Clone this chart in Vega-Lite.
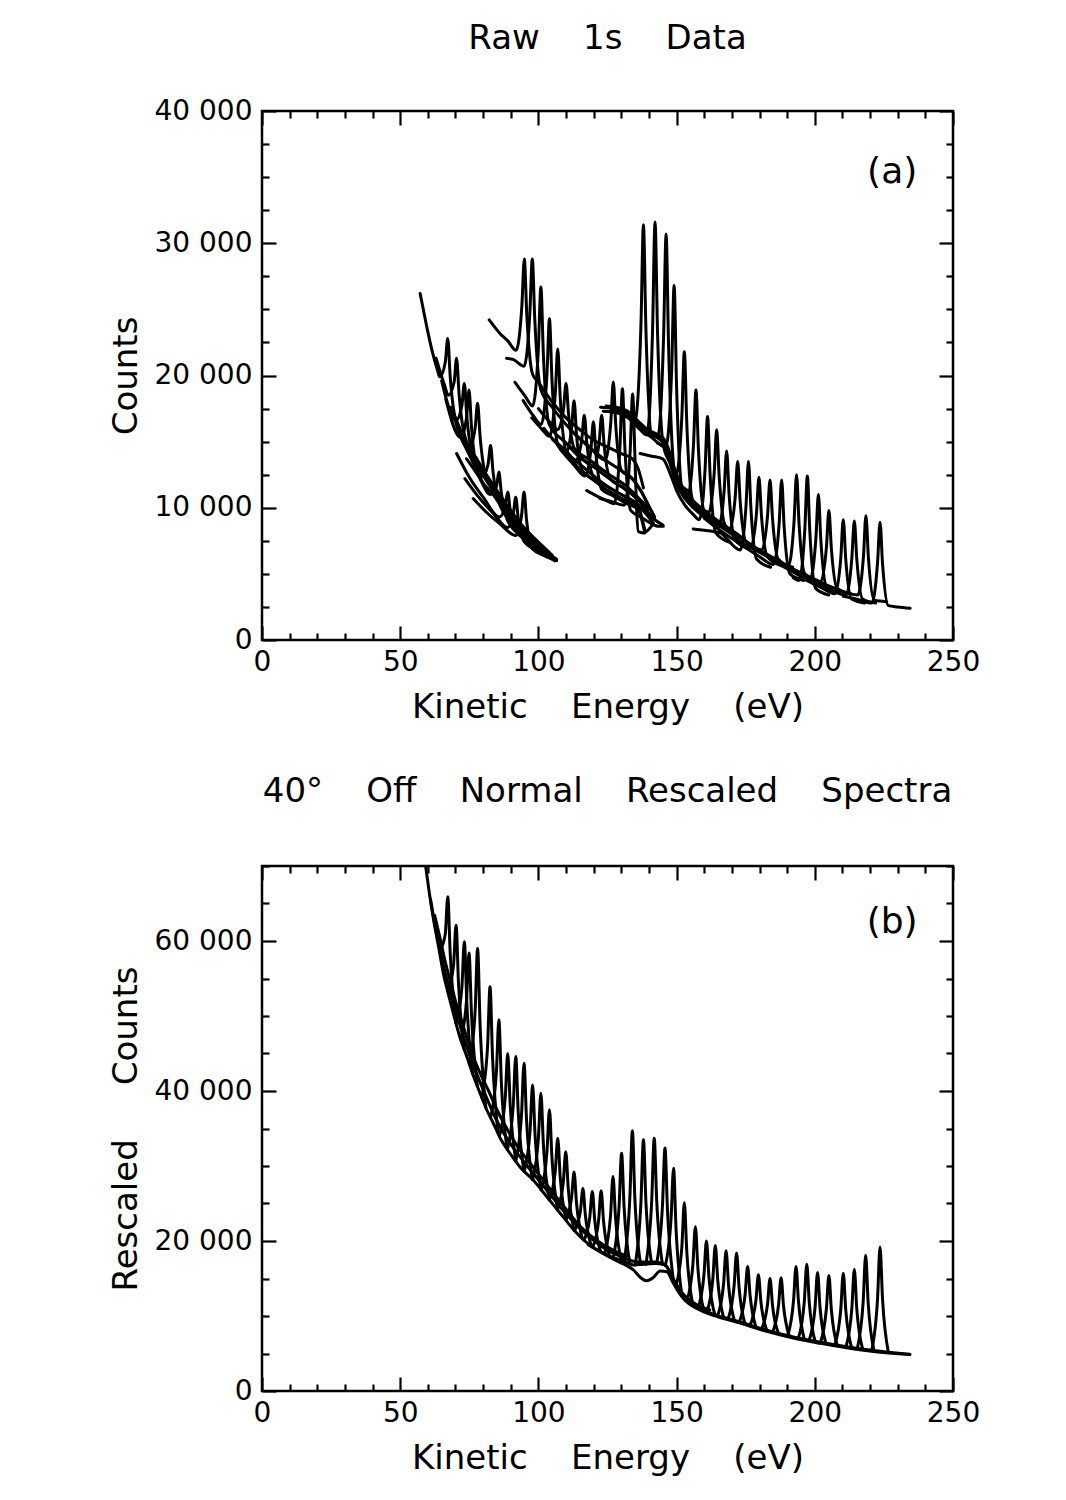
{
"$schema": "https://vega.github.io/schema/vega-lite/v6.json",
"background": "white",
"padding": {"left": 107, "top": 20, "right": 10, "bottom": 10},
"spacing": 47,
"config": {
  "font": "DejaVu Sans",
  "view": {"stroke": "black", "strokeWidth": 2.5},
  "axis": {"domain": false, "grid": false, "labelFontSize": 28, "labelColor": "#000", "titleFontSize": 34, "titleFontWeight": "normal", "titleColor": "#000", "tickColor": "#000", "tickWidth": 2.2, "labelFlush": false, "labelOverlap": false},
  "title": {"fontSize": 34, "fontWeight": "normal", "color": "#000", "anchor": "middle"}
},
"datasets": {
"A": [
{"s":"a1","x":57.2,"y":26200},{"s":"a1","x":59.5,"y":23800},{"s":"a1","x":61.5,"y":21900},{"s":"a1","x":63.5,"y":20400},{"s":"a1","x":64.3,"y":19900},{"s":"a1","x":66.3,"y":21000},{"s":"a1","x":67.2,"y":22800},{"s":"a1","x":68.1,"y":19900},{"s":"a1","x":70.2,"y":16400},{"s":"a1","x":75,"y":14200},{"s":"a1","x":82,"y":11800},{"s":"a1","x":90,"y":9300},{"s":"a1","x":98,"y":7300},{"s":"a1","x":106.6,"y":6100},
{"s":"a2","x":63,"y":21300},{"s":"a2","x":66,"y":19300},{"s":"a2","x":67.4,"y":18500},{"s":"a2","x":69.5,"y":19500},{"s":"a2","x":70.4,"y":21300},{"s":"a2","x":71.3,"y":18600},{"s":"a2","x":73.4,"y":15400},{"s":"a2","x":78,"y":13600},{"s":"a2","x":86,"y":11000},{"s":"a2","x":94,"y":8700},{"s":"a2","x":102,"y":7000},{"s":"a2","x":105,"y":6400},
{"s":"a3","x":65,"y":19600},{"s":"a3","x":70.2,"y":16600},{"s":"a3","x":72.3,"y":17700},{"s":"a3","x":73.2,"y":19400},{"s":"a3","x":74.1,"y":16900},{"s":"a3","x":76.2,"y":14000},{"s":"a3","x":80,"y":12700},{"s":"a3","x":88,"y":10200},{"s":"a3","x":96,"y":8000},{"s":"a3","x":103,"y":6600},
{"s":"a4","x":66.5,"y":18200},{"s":"a4","x":71.9,"y":15300},{"s":"a4","x":74.0,"y":16800},{"s":"a4","x":74.9,"y":18900},{"s":"a4","x":75.8,"y":16100},{"s":"a4","x":77.9,"y":12800},{"s":"a4","x":84,"y":10900},{"s":"a4","x":92,"y":8500},{"s":"a4","x":100,"y":6900},{"s":"a4","x":106,"y":6000},
{"s":"a5","x":68.5,"y":17600},{"s":"a5","x":72,"y":15800},{"s":"a5","x":75,"y":14500},{"s":"a5","x":77.1,"y":16000},{"s":"a5","x":78.0,"y":17900},{"s":"a5","x":78.9,"y":15400},{"s":"a5","x":81.0,"y":12400},{"s":"a5","x":87,"y":10500},{"s":"a5","x":95,"y":8300},{"s":"a5","x":104,"y":6500},
{"s":"a6","x":71,"y":15800},{"s":"a6","x":75,"y":14000},{"s":"a6","x":79.7,"y":12350},{"s":"a6","x":81.8,"y":13300},{"s":"a6","x":82.7,"y":14700},{"s":"a6","x":83.6,"y":12700},{"s":"a6","x":85.7,"y":10400},{"s":"a6","x":92,"y":8600},{"s":"a6","x":100,"y":7000},{"s":"a6","x":106,"y":6200},
{"s":"a7","x":74,"y":13700},{"s":"a7","x":78,"y":12500},{"s":"a7","x":82.7,"y":11000},{"s":"a7","x":84.8,"y":11600},{"s":"a7","x":85.7,"y":12700},{"s":"a7","x":86.6,"y":11100},{"s":"a7","x":88.7,"y":9100},{"s":"a7","x":94,"y":7800},{"s":"a7","x":101,"y":6600},{"s":"a7","x":106,"y":6000},
{"s":"a8","x":70.4,"y":14100},{"s":"a8","x":75,"y":12300},{"s":"a8","x":80,"y":10800},{"s":"a8","x":85.9,"y":9300},{"s":"a8","x":88.0,"y":10150},{"s":"a8","x":88.9,"y":11200},{"s":"a8","x":89.8,"y":9800},{"s":"a8","x":91.9,"y":8200},{"s":"a8","x":96,"y":7500},{"s":"a8","x":100,"y":6900},{"s":"a8","x":104,"y":6300},
{"s":"a9","x":73.4,"y":12200},{"s":"a9","x":78,"y":10900},{"s":"a9","x":84,"y":9500},{"s":"a9","x":88.8,"y":8500},{"s":"a9","x":90.9,"y":9500},{"s":"a9","x":91.8,"y":10800},{"s":"a9","x":92.7,"y":9200},{"s":"a9","x":94.8,"y":7450},{"s":"a9","x":99,"y":6800},{"s":"a9","x":103,"y":6300},
{"s":"a10","x":76.4,"y":10700},{"s":"a10","x":81,"y":9700},{"s":"a10","x":86,"y":8800},{"s":"a10","x":91.8,"y":7900},{"s":"a10","x":93.9,"y":9400},{"s":"a10","x":94.8,"y":11200},{"s":"a10","x":95.7,"y":9100},{"s":"a10","x":97.8,"y":6900},{"s":"a10","x":102,"y":6400},{"s":"a10","x":106.6,"y":6000},
{"s":"m1","x":82.2,"y":24200},{"s":"m1","x":86,"y":23200},{"s":"m1","x":89,"y":22600},{"s":"m1","x":91.9,"y":21900},{"s":"m1","x":94,"y":25200},{"s":"m1","x":94.9,"y":28800},{"s":"m1","x":95.8,"y":24600},{"s":"m1","x":97.9,"y":20100},{"s":"m1","x":100,"y":19500},{"s":"m1","x":105,"y":18000},{"s":"m1","x":110,"y":16800},{"s":"m1","x":115,"y":15900},{"s":"m1","x":120,"y":15100},{"s":"m1","x":125,"y":14600},{"s":"m1","x":130,"y":14100},{"s":"m1","x":134,"y":13700},{"s":"m1","x":136,"y":13000},{"s":"m1","x":138,"y":11500},
{"s":"m2","x":88.5,"y":21300},{"s":"m2","x":91,"y":21200},{"s":"m2","x":94.8,"y":20700},{"s":"m2","x":96.9,"y":24700},{"s":"m2","x":97.8,"y":28800},{"s":"m2","x":98.7,"y":24200},{"s":"m2","x":100.8,"y":19000},{"s":"m2","x":105,"y":17600},{"s":"m2","x":110,"y":16300},{"s":"m2","x":115,"y":15200},{"s":"m2","x":120,"y":14300},{"s":"m2","x":125,"y":13500},{"s":"m2","x":130,"y":12800},{"s":"m2","x":134,"y":12200},{"s":"m2","x":137,"y":11300},{"s":"m2","x":140,"y":10100},{"s":"m2","x":142,"y":9300},
{"s":"m3","x":91.5,"y":19500},{"s":"m3","x":95,"y":18500},{"s":"m3","x":97.9,"y":17700},{"s":"m3","x":100,"y":22100},{"s":"m3","x":100.9,"y":26700},{"s":"m3","x":101.8,"y":21600},{"s":"m3","x":103.9,"y":16300},{"s":"m3","x":110,"y":14900},{"s":"m3","x":115,"y":13800},{"s":"m3","x":120,"y":13100},{"s":"m3","x":125,"y":12300},{"s":"m3","x":130,"y":11600},{"s":"m3","x":134,"y":11000},{"s":"m3","x":137,"y":10400},{"s":"m3","x":141,"y":9300},{"s":"m3","x":145,"y":8700},
{"s":"m4","x":94.5,"y":18100},{"s":"m4","x":98,"y":17000},{"s":"m4","x":101,"y":16300},{"s":"m4","x":103.1,"y":20100},{"s":"m4","x":104,"y":24300},{"s":"m4","x":104.9,"y":19700},{"s":"m4","x":107,"y":14800},{"s":"m4","x":110,"y":14100},{"s":"m4","x":115,"y":12900},{"s":"m4","x":120,"y":12100},{"s":"m4","x":125,"y":11300},{"s":"m4","x":130,"y":10700},{"s":"m4","x":134,"y":10300},{"s":"m4","x":136,"y":10100},{"s":"m4","x":138.5,"y":8300},
{"s":"m5","x":97.6,"y":16800},{"s":"m5","x":101,"y":16000},{"s":"m5","x":104,"y":15400},{"s":"m5","x":106.1,"y":18600},{"s":"m5","x":107,"y":22000},{"s":"m5","x":107.9,"y":18300},{"s":"m5","x":110,"y":14300},{"s":"m5","x":115,"y":13300},{"s":"m5","x":120,"y":12400},{"s":"m5","x":125,"y":11600},{"s":"m5","x":130,"y":11000},{"s":"m5","x":135,"y":10400},{"s":"m5","x":138,"y":9900},{"s":"m5","x":141.6,"y":8800},
{"s":"m6","x":100,"y":17500},{"s":"m6","x":104,"y":16500},{"s":"m6","x":107,"y":15900},{"s":"m6","x":109.1,"y":17500},{"s":"m6","x":110,"y":19400},{"s":"m6","x":110.9,"y":17100},{"s":"m6","x":113,"y":14500},{"s":"m6","x":118,"y":13700},{"s":"m6","x":125,"y":12600},{"s":"m6","x":132,"y":11600},{"s":"m6","x":140,"y":9900},
{"s":"m7","x":102,"y":16000},{"s":"m7","x":106,"y":15000},{"s":"m7","x":109.9,"y":14100},{"s":"m7","x":112,"y":16000},{"s":"m7","x":112.9,"y":18100},{"s":"m7","x":113.8,"y":15500},{"s":"m7","x":115.9,"y":12800},{"s":"m7","x":120,"y":12100},{"s":"m7","x":125,"y":11300},{"s":"m7","x":130,"y":10700},{"s":"m7","x":136,"y":10100},
{"s":"m8","x":105,"y":15200},{"s":"m8","x":110,"y":14300},{"s":"m8","x":113.6,"y":13600},{"s":"m8","x":115.7,"y":15200},{"s":"m8","x":116.6,"y":17000},{"s":"m8","x":117.5,"y":14900},{"s":"m8","x":119.6,"y":12500},{"s":"m8","x":125,"y":11600},{"s":"m8","x":130,"y":11000},{"s":"m8","x":135,"y":10400},{"s":"m8","x":141,"y":9000},
{"s":"m9","x":108,"y":14400},{"s":"m9","x":113,"y":13200},{"s":"m9","x":116.9,"y":12400},{"s":"m9","x":119,"y":14400},{"s":"m9","x":119.9,"y":16500},{"s":"m9","x":120.8,"y":14100},{"s":"m9","x":122.9,"y":11400},{"s":"m9","x":127,"y":10900},{"s":"m9","x":132,"y":10300},{"s":"m9","x":136,"y":9900},{"s":"m9","x":138.5,"y":8100},
{"s":"m10","x":111,"y":14700},{"s":"m10","x":116,"y":13700},{"s":"m10","x":119.9,"y":13100},{"s":"m10","x":122,"y":15000},{"s":"m10","x":122.9,"y":17000},{"s":"m10","x":123.8,"y":14700},{"s":"m10","x":125.9,"y":12200},{"s":"m10","x":130,"y":11600},{"s":"m10","x":134,"y":11000},{"s":"m10","x":137,"y":10400},{"s":"m10","x":141,"y":9300},{"s":"m10","x":145,"y":8700},
{"s":"m11","x":113,"y":15600},{"s":"m11","x":118,"y":14700},{"s":"m11","x":124.1,"y":13600},{"s":"m11","x":126.2,"y":16500},{"s":"m11","x":127.1,"y":19500},{"s":"m11","x":128,"y":16200},{"s":"m11","x":130.1,"y":12800},{"s":"m11","x":134,"y":12200},{"s":"m11","x":137,"y":11300},{"s":"m11","x":140,"y":10100},{"s":"m11","x":142,"y":9300},
{"s":"m12","x":117.5,"y":11300},{"s":"m12","x":121,"y":10900},{"s":"m12","x":125,"y":10500},{"s":"m12","x":127.4,"y":10300},{"s":"m12","x":129.5,"y":14600},{"s":"m12","x":130.4,"y":19000},{"s":"m12","x":131.3,"y":14500},{"s":"m12","x":133.4,"y":9800},{"s":"m12","x":137,"y":9300},{"s":"m12","x":140,"y":8900},{"s":"m12","x":143.5,"y":8600},{"s":"m12","x":145.2,"y":8600},
{"s":"m13","x":122.3,"y":10700},{"s":"m13","x":126,"y":10500},{"s":"m13","x":131.1,"y":10200},{"s":"m13","x":133.2,"y":14300},{"s":"m13","x":134.1,"y":18600},{"s":"m13","x":134.9,"y":14000},{"s":"m13","x":135.5,"y":10000},{"s":"m13","x":136.2,"y":8200},{"s":"m13","x":138,"y":8100},{"s":"m13","x":141.6,"y":8800},
{"s":"h1","x":122.5,"y":17600},{"s":"h1","x":127,"y":17500},{"s":"h1","x":131,"y":17300},{"s":"h1","x":135,"y":16700},{"s":"h1","x":137.1,"y":23800},{"s":"h1","x":138,"y":31400},{"s":"h1","x":138.9,"y":23500},{"s":"h1","x":141,"y":15500},{"s":"h1","x":143,"y":15300},{"s":"h1","x":146,"y":14800},
{"s":"h2","x":123.5,"y":17300},{"s":"h2","x":128,"y":17200},{"s":"h2","x":133,"y":16700},{"s":"h2","x":136.8,"y":15900},{"s":"h2","x":139.2,"y":15500},{"s":"h2","x":141.3,"y":23400},{"s":"h2","x":142.2,"y":31600},{"s":"h2","x":143.1,"y":23300},{"s":"h2","x":145.2,"y":14700},{"s":"h2","x":148,"y":13200},{"s":"h2","x":150,"y":11900},
{"s":"h3","x":124.5,"y":17700},{"s":"h3","x":129,"y":17500},{"s":"h3","x":133,"y":17100},{"s":"h3","x":136.8,"y":16300},{"s":"h3","x":140,"y":15800},{"s":"h3","x":143.2,"y":15400},{"s":"h3","x":145.3,"y":23000},{"s":"h3","x":146.2,"y":30700},{"s":"h3","x":147.1,"y":22200},{"s":"h3","x":149.2,"y":12800},{"s":"h3","x":151,"y":11900},{"s":"h3","x":154,"y":11300},
{"s":"h4","x":126,"y":17300},{"s":"h4","x":131,"y":17100},{"s":"h4","x":136.8,"y":16000},{"s":"h4","x":141,"y":15300},{"s":"h4","x":146.1,"y":14600},{"s":"h4","x":148.2,"y":20300},{"s":"h4","x":149.1,"y":26800},{"s":"h4","x":150,"y":19100},{"s":"h4","x":152.1,"y":11200},{"s":"h4","x":154,"y":10700},{"s":"h4","x":157,"y":10000},
{"s":"h5","x":128,"y":17600},{"s":"h5","x":133,"y":17200},{"s":"h5","x":136.8,"y":16400},{"s":"h5","x":141,"y":15700},{"s":"h5","x":145,"y":15300},{"s":"h5","x":147,"y":14500},{"s":"h5","x":149.8,"y":12500},{"s":"h5","x":151.9,"y":16900},{"s":"h5","x":152.8,"y":21800},{"s":"h5","x":153.7,"y":16300},{"s":"h5","x":155.8,"y":10600},{"s":"h5","x":161,"y":9700},
{"s":"h6","x":131,"y":17300},{"s":"h6","x":136.8,"y":16200},{"s":"h6","x":141,"y":15500},{"s":"h6","x":145,"y":15100},{"s":"h6","x":148,"y":13500},{"s":"h6","x":151,"y":11800},{"s":"h6","x":154,"y":10900},{"s":"h6","x":156.1,"y":14700},{"s":"h6","x":157,"y":18900},{"s":"h6","x":157.9,"y":14400},{"s":"h6","x":160,"y":9700},{"s":"h6","x":165,"y":8900},
{"s":"h7","x":136.8,"y":14100},{"s":"h7","x":141,"y":13900},{"s":"h7","x":145,"y":13700},{"s":"h7","x":148,"y":12400},{"s":"h7","x":150,"y":11300},{"s":"h7","x":153,"y":10200},{"s":"h7","x":156,"y":9500},{"s":"h7","x":158.2,"y":9100},{"s":"h7","x":160.3,"y":12900},{"s":"h7","x":161.2,"y":16900},{"s":"h7","x":162.1,"y":12600},{"s":"h7","x":164.2,"y":8100},{"s":"h7","x":169,"y":7400},
{"s":"h8","x":140,"y":15800},{"s":"h8","x":145,"y":15200},{"s":"h8","x":148,"y":13600},{"s":"h8","x":152,"y":11600},{"s":"h8","x":156,"y":10500},{"s":"h8","x":161.5,"y":9600},{"s":"h8","x":163.6,"y":12600},{"s":"h8","x":164.5,"y":15900},{"s":"h8","x":165.4,"y":12400},{"s":"h8","x":167.5,"y":8700},{"s":"h8","x":172,"y":8000},
{"s":"h9","x":143,"y":14900},{"s":"h9","x":146.5,"y":14300},{"s":"h9","x":148,"y":13100},{"s":"h9","x":150,"y":11800},{"s":"h9","x":153,"y":10700},{"s":"h9","x":156,"y":10000},{"s":"h9","x":160,"y":9300},{"s":"h9","x":165.1,"y":8500},{"s":"h9","x":167.2,"y":11300},{"s":"h9","x":168.1,"y":14300},{"s":"h9","x":169,"y":11000},{"s":"h9","x":171.1,"y":7600},{"s":"h9","x":176,"y":6900},
{"s":"h10","x":147,"y":14300},{"s":"h10","x":150,"y":12200},{"s":"h10","x":153,"y":11100},{"s":"h10","x":157,"y":10200},{"s":"h10","x":163,"y":9200},{"s":"h10","x":169.1,"y":8300},{"s":"h10","x":171.2,"y":10800},{"s":"h10","x":172.1,"y":13500},{"s":"h10","x":173,"y":10500},{"s":"h10","x":175.1,"y":7400},{"s":"h10","x":180,"y":6800},
{"s":"h11","x":156,"y":8400},{"s":"h11","x":160,"y":8300},{"s":"h11","x":165.7,"y":8100},{"s":"h11","x":173,"y":6800},{"s":"h11","x":175.1,"y":10100},{"s":"h11","x":176,"y":13500},{"s":"h11","x":176.9,"y":9900},{"s":"h11","x":179,"y":6100},{"s":"h11","x":184,"y":5500},
{"s":"h12","x":150,"y":12000},{"s":"h12","x":153,"y":10900},{"s":"h12","x":157,"y":10000},{"s":"h12","x":163,"y":9000},{"s":"h12","x":170,"y":8000},{"s":"h12","x":176.8,"y":7000},{"s":"h12","x":178.9,"y":9600},{"s":"h12","x":179.8,"y":12300},{"s":"h12","x":180.7,"y":9400},{"s":"h12","x":182.8,"y":6300},{"s":"h12","x":188,"y":5600},
{"s":"h13","x":155,"y":10700},{"s":"h13","x":160,"y":9800},{"s":"h13","x":165,"y":9000},{"s":"h13","x":172,"y":8000},{"s":"h13","x":180.8,"y":6800},{"s":"h13","x":182.9,"y":9400},{"s":"h13","x":183.8,"y":12100},{"s":"h13","x":184.7,"y":9200},{"s":"h13","x":186.8,"y":6100},{"s":"h13","x":192,"y":5500},
{"s":"h14","x":160,"y":9200},{"s":"h14","x":165,"y":8400},{"s":"h14","x":172,"y":7400},{"s":"h14","x":180,"y":6300},{"s":"h14","x":185,"y":5700},{"s":"h14","x":187.1,"y":8800},{"s":"h14","x":188,"y":12100},{"s":"h14","x":188.9,"y":8600},{"s":"h14","x":191,"y":5000},{"s":"h14","x":196,"y":4500},
{"s":"h15","x":165,"y":8900},{"s":"h15","x":172,"y":7900},{"s":"h15","x":180,"y":6800},{"s":"h15","x":186,"y":6100},{"s":"h15","x":190.4,"y":5600},{"s":"h15","x":192.5,"y":9000},{"s":"h15","x":193.4,"y":12500},{"s":"h15","x":194.3,"y":8800},{"s":"h15","x":196.4,"y":5000},{"s":"h15","x":201,"y":4500},
{"s":"h16","x":192.2,"y":4700},{"s":"h16","x":194.3,"y":4500},{"s":"h16","x":196.4,"y":8400},{"s":"h16","x":197.3,"y":12400},{"s":"h16","x":198.2,"y":8200},{"s":"h16","x":200.3,"y":3900},{"s":"h16","x":205,"y":3400},
{"s":"h17","x":175,"y":7200},{"s":"h17","x":182,"y":6400},{"s":"h17","x":190,"y":5400},{"s":"h17","x":198.3,"y":4600},{"s":"h17","x":200.4,"y":7700},{"s":"h17","x":201.3,"y":11000},{"s":"h17","x":202.2,"y":7500},{"s":"h17","x":204.3,"y":4000},{"s":"h17","x":209,"y":3600},
{"s":"h18","x":180,"y":6800},{"s":"h18","x":188,"y":5800},{"s":"h18","x":195,"y":5100},{"s":"h18","x":202.1,"y":4400},{"s":"h18","x":204.2,"y":7000},{"s":"h18","x":205.1,"y":9800},{"s":"h18","x":206,"y":6900},{"s":"h18","x":208.1,"y":3900},{"s":"h18","x":213,"y":3500},
{"s":"h19","x":197,"y":4500},{"s":"h19","x":202,"y":4000},{"s":"h19","x":207.3,"y":3500},{"s":"h19","x":209.4,"y":6200},{"s":"h19","x":210.3,"y":9100},{"s":"h19","x":211.2,"y":6100},{"s":"h19","x":213.3,"y":3100},{"s":"h19","x":218,"y":2800},
{"s":"h20","x":190,"y":5400},{"s":"h20","x":200,"y":4400},{"s":"h20","x":211.3,"y":3400},{"s":"h20","x":213.4,"y":6200},{"s":"h20","x":214.3,"y":9000},{"s":"h20","x":215.2,"y":6100},{"s":"h20","x":217.3,"y":3100},{"s":"h20","x":222,"y":2800},
{"s":"h21","x":195,"y":5100},{"s":"h21","x":205,"y":4100},{"s":"h21","x":215.5,"y":3400},{"s":"h21","x":217.6,"y":6300},{"s":"h21","x":218.5,"y":9400},{"s":"h21","x":219.4,"y":6200},{"s":"h21","x":221.5,"y":3000},{"s":"h21","x":226,"y":2900},
{"s":"h22","x":210.3,"y":3300},{"s":"h22","x":215,"y":3100},{"s":"h22","x":220.6,"y":2800},{"s":"h22","x":222.7,"y":5850},{"s":"h22","x":223.6,"y":8900},{"s":"h22","x":224.5,"y":5800},{"s":"h22","x":226.6,"y":2600},{"s":"h22","x":230,"y":2500},{"s":"h22","x":234.5,"y":2400}
],
"B": [
{"s":"bgA","x":59.2,"y":70000},{"s":"bgA","x":60.5,"y":66500},{"s":"bgA","x":62,"y":63000},{"s":"bgA","x":64,"y":59000},{"s":"bgA","x":65.6,"y":55700},{"s":"bgA","x":67.5,"y":52800},{"s":"bgA","x":69.2,"y":50400},{"s":"bgA","x":71.5,"y":47300},{"s":"bgA","x":74.1,"y":44600},{"s":"bgA","x":76.5,"y":42000},{"s":"bgA","x":78.9,"y":39700},{"s":"bgA","x":81.3,"y":37500},{"s":"bgA","x":83.7,"y":35700},{"s":"bgA","x":86.5,"y":33500},{"s":"bgA","x":89.7,"y":31700},{"s":"bgA","x":93.5,"y":29800},{"s":"bgA","x":98.2,"y":28100},{"s":"bgA","x":103.5,"y":25700},{"s":"bgA","x":109,"y":23200},{"s":"bgA","x":113,"y":21400},{"s":"bgA","x":116.5,"y":20100},{"s":"bgA","x":120,"y":19100},{"s":"bgA","x":123.5,"y":18400},{"s":"bgA","x":127,"y":17800},{"s":"bgA","x":131,"y":17300},{"s":"bgA","x":134.5,"y":16800},{"s":"bgA","x":138,"y":16900},{"s":"bgA","x":142,"y":17000},{"s":"bgA","x":145.5,"y":16900},{"s":"bgA","x":148,"y":15500},{"s":"bgA","x":150.5,"y":13500},{"s":"bgA","x":153,"y":12300},{"s":"bgA","x":157.3,"y":11200},{"s":"bgA","x":164.5,"y":10100},{"s":"bgA","x":173,"y":9200},{"s":"bgA","x":182.6,"y":8100},{"s":"bgA","x":192.2,"y":7200},{"s":"bgA","x":202,"y":6500},{"s":"bgA","x":211.5,"y":5900},{"s":"bgA","x":221.2,"y":5400},{"s":"bgA","x":234.4,"y":4900},
{"s":"bgB","x":62.5,"y":63400},{"s":"bgB","x":64.4,"y":60400},{"s":"bgB","x":66,"y":57700},{"s":"bgB","x":68,"y":54800},{"s":"bgB","x":70,"y":52000},{"s":"bgB","x":73,"y":48400},{"s":"bgB","x":76,"y":45000},{"s":"bgB","x":79,"y":42300},{"s":"bgB","x":82,"y":40000},{"s":"bgB","x":85,"y":37500},{"s":"bgB","x":89,"y":34700},{"s":"bgB","x":93,"y":32300},{"s":"bgB","x":98,"y":29900},{"s":"bgB","x":103,"y":27500},{"s":"bgB","x":109,"y":24700},{"s":"bgB","x":115,"y":22000},{"s":"bgB","x":121,"y":20100},{"s":"bgB","x":127,"y":18800},{"s":"bgB","x":132,"y":18000},
{"s":"bgD","x":61,"y":65500},{"s":"bgD","x":63,"y":61300},{"s":"bgD","x":66,"y":56200},{"s":"bgD","x":70,"y":50800},{"s":"bgD","x":75,"y":44900},{"s":"bgD","x":80,"y":40200},{"s":"bgD","x":85,"y":36000},{"s":"bgD","x":90,"y":32900},{"s":"bgD","x":96,"y":30000},{"s":"bgD","x":103,"y":26800},{"s":"bgD","x":110,"y":23600},{"s":"bgD","x":117,"y":21000},{"s":"bgD","x":124,"y":19000},{"s":"bgD","x":130,"y":17900},{"s":"bgD","x":136,"y":17200},{"s":"bgD","x":142,"y":17200},{"s":"bgD","x":146,"y":16800},{"s":"bgD","x":149,"y":14800},{"s":"bgD","x":152,"y":13100},{"s":"bgD","x":156,"y":11800},{"s":"bgD","x":162,"y":10800},
{"s":"bgC","x":118,"y":19500},{"s":"bgC","x":123.5,"y":18300},{"s":"bgC","x":127,"y":17600},{"s":"bgC","x":131,"y":16900},{"s":"bgC","x":134.5,"y":16100},{"s":"bgC","x":137,"y":15100},{"s":"bgC","x":139,"y":14700},{"s":"bgC","x":141.5,"y":15100},{"s":"bgC","x":144,"y":16000},{"s":"bgC","x":146.5,"y":15900},{"s":"bgC","x":148.5,"y":14600},{"s":"bgC","x":150.5,"y":13300},{"s":"bgC","x":153,"y":12100},{"s":"bgC","x":157.3,"y":11000},{"s":"bgC","x":164.5,"y":9950},{"s":"bgC","x":173,"y":9050},{"s":"bgC","x":182.6,"y":7950},{"s":"bgC","x":192.2,"y":7050},{"s":"bgC","x":202,"y":6350},{"s":"bgC","x":211.5,"y":5750},{"s":"bgC","x":221.2,"y":5250},{"s":"bgC","x":234.4,"y":4850},
{"s":"p1","x":64.2,"y":58600},{"s":"p1","x":66.3,"y":60900},{"s":"p1","x":67.2,"y":65900},{"s":"p1","x":68.1,"y":58300},{"s":"p1","x":70.2,"y":49100},
{"s":"p2","x":67.2,"y":53300},{"s":"p2","x":69.3,"y":56800},{"s":"p2","x":70.2,"y":62100},{"s":"p2","x":71.1,"y":54300},{"s":"p2","x":73.2,"y":45500},
{"s":"p3","x":70.2,"y":49100},{"s":"p3","x":72.3,"y":53700},{"s":"p3","x":73.2,"y":59900},{"s":"p3","x":74.1,"y":51800},{"s":"p3","x":76.2,"y":42300},
{"s":"p4","x":71.9,"y":46900},{"s":"p4","x":74.0,"y":52100},{"s":"p4","x":74.9,"y":58400},{"s":"p4","x":75.8,"y":50200},{"s":"p4","x":77.9,"y":40700},
{"s":"p5","x":75.0,"y":43600},{"s":"p5","x":77.1,"y":50600},{"s":"p5","x":78.0,"y":59000},{"s":"p5","x":78.9,"y":48900},{"s":"p5","x":81.0,"y":37800},
{"s":"p6","x":79.5,"y":39200},{"s":"p6","x":81.6,"y":45900},{"s":"p6","x":82.5,"y":53900},{"s":"p6","x":83.4,"y":44600},{"s":"p6","x":85.5,"y":34300},
{"s":"p7","x":82.7,"y":36500},{"s":"p7","x":84.8,"y":42500},{"s":"p7","x":85.7,"y":49500},{"s":"p7","x":86.6,"y":41100},{"s":"p7","x":88.7,"y":32300},
{"s":"p8","x":85.9,"y":34000},{"s":"p8","x":88.0,"y":39100},{"s":"p8","x":88.9,"y":45000},{"s":"p8","x":89.8,"y":38100},{"s":"p8","x":91.9,"y":30600},
{"s":"p9","x":88.8,"y":32200},{"s":"p9","x":90.9,"y":38100},{"s":"p9","x":91.8,"y":44600},{"s":"p9","x":92.7,"y":37200},{"s":"p9","x":94.8,"y":29300},
{"s":"p10","x":91.8,"y":30700},{"s":"p10","x":93.9,"y":36900},{"s":"p10","x":94.8,"y":43700},{"s":"p10","x":95.7,"y":36200},{"s":"p10","x":97.8,"y":28200},
{"s":"p11","x":94.9,"y":29300},{"s":"p11","x":97.0,"y":34800},{"s":"p11","x":97.9,"y":40800},{"s":"p11","x":98.8,"y":34100},{"s":"p11","x":100.9,"y":26900},
{"s":"p12","x":97.9,"y":28200},{"s":"p12","x":100.0,"y":33700},{"s":"p12","x":100.9,"y":39700},{"s":"p12","x":101.8,"y":32900},{"s":"p12","x":103.9,"y":25500},
{"s":"p13","x":101.0,"y":26800},{"s":"p13","x":103.1,"y":31900},{"s":"p13","x":104.0,"y":37500},{"s":"p13","x":104.9,"y":31100},{"s":"p13","x":107.0,"y":24100},
{"s":"p14","x":104.0,"y":25500},{"s":"p14","x":106.1,"y":29300},{"s":"p14","x":107.0,"y":33700},{"s":"p14","x":107.9,"y":28500},{"s":"p14","x":110.0,"y":22800},
{"s":"p15","x":106.9,"y":24200},{"s":"p15","x":109.0,"y":27800},{"s":"p15","x":109.9,"y":31900},{"s":"p15","x":110.8,"y":27000},{"s":"p15","x":112.9,"y":21400},
{"s":"p16","x":109.9,"y":22800},{"s":"p16","x":112.0,"y":25800},{"s":"p16","x":112.9,"y":29200},{"s":"p16","x":113.8,"y":25000},{"s":"p16","x":115.9,"y":20300},
{"s":"p17","x":113.1,"y":21400},{"s":"p17","x":115.2,"y":24000},{"s":"p17","x":116.1,"y":27000},{"s":"p17","x":117.0,"y":23400},{"s":"p17","x":119.1,"y":19400},
{"s":"p18","x":116.5,"y":20100},{"s":"p18","x":118.6,"y":23200},{"s":"p18","x":119.5,"y":26600},{"s":"p18","x":120.4,"y":22700},{"s":"p18","x":122.5,"y":18600},
{"s":"p19","x":119.7,"y":19200},{"s":"p19","x":121.8,"y":22800},{"s":"p19","x":122.7,"y":26700},{"s":"p19","x":123.6,"y":22500},{"s":"p19","x":125.7,"y":18000},
{"s":"p20","x":124.0,"y":18300},{"s":"p20","x":126.1,"y":23400},{"s":"p20","x":127.0,"y":28600},{"s":"p20","x":127.9,"y":23100},{"s":"p20","x":130.0,"y":17400},
{"s":"p21","x":127.1,"y":17800},{"s":"p21","x":129.2,"y":24700},{"s":"p21","x":130.1,"y":31700},{"s":"p21","x":131.0,"y":24500},{"s":"p21","x":133.1,"y":17000},
{"s":"p22","x":131.0,"y":17300},{"s":"p22","x":133.1,"y":25900},{"s":"p22","x":134.0,"y":34700},{"s":"p22","x":134.9,"y":25700},{"s":"p22","x":137.0,"y":16900},
{"s":"p23","x":135.0,"y":16800},{"s":"p23","x":137.1,"y":25200},{"s":"p23","x":138.0,"y":33500},{"s":"p23","x":138.9,"y":25200},{"s":"p23","x":141.0,"y":17000},
{"s":"p24","x":138.9,"y":16900},{"s":"p24","x":141.0,"y":25400},{"s":"p24","x":141.9,"y":33700},{"s":"p24","x":142.8,"y":25400},{"s":"p24","x":144.9,"y":16900},
{"s":"p25","x":142.8,"y":17000},{"s":"p25","x":144.9,"y":24800},{"s":"p25","x":145.8,"y":32400},{"s":"p25","x":146.7,"y":24100},{"s":"p25","x":148.8,"y":14900},
{"s":"p26","x":145.9,"y":16700},{"s":"p26","x":148.0,"y":23000},{"s":"p26","x":148.9,"y":29700},{"s":"p26","x":149.8,"y":21600},{"s":"p26","x":151.9,"y":12800},
{"s":"p27","x":149.8,"y":14100},{"s":"p27","x":151.9,"y":19200},{"s":"p27","x":152.8,"y":25100},{"s":"p27","x":153.7,"y":18500},{"s":"p27","x":155.8,"y":11600},
{"s":"p28","x":153.8,"y":12100},{"s":"p28","x":155.9,"y":16900},{"s":"p28","x":156.8,"y":21900},{"s":"p28","x":157.7,"y":16400},{"s":"p28","x":159.8,"y":10800},
{"s":"p29","x":157.8,"y":11100},{"s":"p29","x":159.9,"y":15500},{"s":"p29","x":160.8,"y":20000},{"s":"p29","x":161.7,"y":15200},{"s":"p29","x":163.8,"y":10200},
{"s":"p30","x":161.0,"y":10600},{"s":"p30","x":163.1,"y":14900},{"s":"p30","x":164.0,"y":19400},{"s":"p30","x":164.9,"y":14700},{"s":"p30","x":167.0,"y":9800},
{"s":"p31","x":164.9,"y":10100},{"s":"p31","x":167.0,"y":14300},{"s":"p31","x":167.9,"y":18700},{"s":"p31","x":168.8,"y":14100},{"s":"p31","x":170.9,"y":9400},
{"s":"p32","x":168.7,"y":9700},{"s":"p32","x":170.8,"y":14000},{"s":"p32","x":171.7,"y":18400},{"s":"p32","x":172.6,"y":13800},{"s":"p32","x":174.7,"y":9000},
{"s":"p33","x":172.7,"y":9200},{"s":"p33","x":174.8,"y":12900},{"s":"p33","x":175.7,"y":16600},{"s":"p33","x":176.6,"y":12700},{"s":"p33","x":178.7,"y":8500},
{"s":"p34","x":176.6,"y":8800},{"s":"p34","x":178.7,"y":12100},{"s":"p34","x":179.6,"y":15500},{"s":"p34","x":180.5,"y":11900},{"s":"p34","x":182.6,"y":8100},
{"s":"p35","x":180.8,"y":8300},{"s":"p35","x":182.9,"y":11600},{"s":"p35","x":183.8,"y":15000},{"s":"p35","x":184.7,"y":11400},{"s":"p35","x":186.8,"y":7700},
{"s":"p36","x":184.8,"y":7900},{"s":"p36","x":186.9,"y":11500},{"s":"p36","x":187.8,"y":15100},{"s":"p36","x":188.7,"y":11300},{"s":"p36","x":190.8,"y":7300},
{"s":"p37","x":190.2,"y":7400},{"s":"p37","x":192.3,"y":12000},{"s":"p37","x":193.2,"y":16600},{"s":"p37","x":194.1,"y":11900},{"s":"p37","x":196.2,"y":6900},
{"s":"p38","x":194.1,"y":7100},{"s":"p38","x":196.2,"y":11900},{"s":"p38","x":197.1,"y":16900},{"s":"p38","x":198.0,"y":11800},{"s":"p38","x":200.1,"y":6600},
{"s":"p39","x":198.0,"y":6800},{"s":"p39","x":200.1,"y":11200},{"s":"p39","x":201.0,"y":15800},{"s":"p39","x":201.9,"y":11100},{"s":"p39","x":204.0,"y":6400},
{"s":"p40","x":202.1,"y":6500},{"s":"p40","x":204.2,"y":11000},{"s":"p40","x":205.1,"y":15400},{"s":"p40","x":206.0,"y":10800},{"s":"p40","x":208.1,"y":6100},
{"s":"p41","x":207.3,"y":6200},{"s":"p41","x":209.4,"y":10900},{"s":"p41","x":210.3,"y":15700},{"s":"p41","x":211.2,"y":10800},{"s":"p41","x":213.3,"y":5800},
{"s":"p42","x":211.3,"y":5900},{"s":"p42","x":213.4,"y":11000},{"s":"p42","x":214.3,"y":16200},{"s":"p42","x":215.2,"y":10900},{"s":"p42","x":217.3,"y":5600},
{"s":"p43","x":215.4,"y":5700},{"s":"p43","x":217.5,"y":11900},{"s":"p43","x":218.4,"y":18100},{"s":"p43","x":219.3,"y":11800},{"s":"p43","x":221.4,"y":5400},
{"s":"p44","x":220.6,"y":5400},{"s":"p44","x":222.7,"y":12300},{"s":"p44","x":223.6,"y":19200},{"s":"p44","x":224.5,"y":12300},{"s":"p44","x":226.6,"y":5200}
]
},
"vconcat": [
{
  "width": 691, "height": 529,
  "title": {"text": "Raw\u00a0\u00a0\u00a0 1s\u00a0\u00a0\u00a0 Data", "offset": 41},
  "data": {"name": "A"},
  "layer": [
    {
      "mark": {"type": "line", "interpolate": "monotone", "stroke": "#000", "strokeWidth": 3, "strokeJoin": "round", "strokeCap": "round", "clip": true},
      "encoding": {
        "x": {"field": "x", "type": "quantitative", "scale": {"domain": [0, 250], "nice": false},
          "axis": {"orient": "bottom", "values": [0,10,20,30,40,50,60,70,80,90,100,110,120,130,140,150,160,170,180,190,200,210,220,230,240,250],
            "tickSize": {"condition": {"test": "datum.value % 50 === 0", "value": -14}, "value": -7},
            "labelExpr": "datum.value % 50 === 0 ? datum.label : ''", "labelPadding": 22,
            "title": "Kinetic\u00a0\u00a0\u00a0 Energy\u00a0\u00a0\u00a0 (eV)", "titlePadding": 7}},
        "y": {"field": "y", "type": "quantitative", "scale": {"domain": [0, 40000], "nice": false},
          "axis": {"orient": "left", "values": [0,2500,5000,7500,10000,12500,15000,17500,20000,22500,25000,27500,30000,32500,35000,37500,40000],
            "tickSize": {"condition": {"test": "datum.value % 10000 === 0", "value": -14}, "value": -7},
            "labelExpr": "datum.value % 10000 === 0 ? replace(format(datum.value, ','), ',', ' ') : ''", "labelPadding": 24,
            "title": "Counts", "titlePadding": 11}},
        "detail": {"field": "s", "type": "nominal"}
      }
    },
    {
      "mark": {"type": "point", "opacity": 0},
      "encoding": {
        "x": {"field": "x", "type": "quantitative", "scale": {"domain": [0, 250], "nice": false},
          "axis": {"orient": "top", "values": [0,10,20,30,40,50,60,70,80,90,100,110,120,130,140,150,160,170,180,190,200,210,220,230,240,250],
            "tickSize": {"condition": {"test": "datum.value % 50 === 0", "value": -14}, "value": -7}, "labels": false, "title": null}},
        "y": {"field": "y", "type": "quantitative", "scale": {"domain": [0, 40000], "nice": false},
          "axis": {"orient": "right", "values": [0,2500,5000,7500,10000,12500,15000,17500,20000,22500,25000,27500,30000,32500,35000,37500,40000],
            "tickSize": {"condition": {"test": "datum.value % 10000 === 0", "value": -14}, "value": -7}, "labels": false, "title": null}}
      }
    },
    {
      "data": {"values": [{}]},
      "mark": {"type": "text", "text": "(a)", "fontSize": 36, "font": "DejaVu Sans", "color": "#000"},
      "encoding": {
        "x": {"datum": 228, "type": "quantitative", "axis": null},
        "y": {"datum": 35400, "type": "quantitative", "axis": null}
      }
    }
  ],
  "resolve": {"axis": {"x": "independent", "y": "independent"}}
},
{
  "width": 691, "height": 525,
  "title": {"text": "40°\u00a0\u00a0\u00a0 Off\u00a0\u00a0\u00a0 Normal\u00a0\u00a0\u00a0 Rescaled\u00a0\u00a0\u00a0 Spectra", "offset": 43},
  "data": {"name": "B"},
  "layer": [
    {
      "mark": {"type": "line", "interpolate": "monotone", "stroke": "#000", "strokeWidth": 3, "strokeJoin": "round", "strokeCap": "round", "clip": true},
      "encoding": {
        "x": {"field": "x", "type": "quantitative", "scale": {"domain": [0, 250], "nice": false},
          "axis": {"orient": "bottom", "values": [0,10,20,30,40,50,60,70,80,90,100,110,120,130,140,150,160,170,180,190,200,210,220,230,240,250],
            "tickSize": {"condition": {"test": "datum.value % 50 === 0", "value": -14}, "value": -7},
            "labelExpr": "datum.value % 50 === 0 ? datum.label : ''", "labelPadding": 22,
            "title": "Kinetic\u00a0\u00a0\u00a0 Energy\u00a0\u00a0\u00a0 (eV)", "titlePadding": 7}},
        "y": {"field": "y", "type": "quantitative", "scale": {"domain": [0, 70000], "nice": false},
          "axis": {"orient": "left", "values": [0,5000,10000,15000,20000,25000,30000,35000,40000,45000,50000,55000,60000,65000,70000],
            "tickSize": {"condition": {"test": "datum.value % 20000 === 0", "value": -14}, "value": -7},
            "labelExpr": "datum.value % 20000 === 0 ? replace(format(datum.value, ','), ',', ' ') : ''", "labelPadding": 24,
            "title": "Rescaled\u00a0\u00a0\u00a0\u00a0 Counts", "titlePadding": 11}},
        "detail": {"field": "s", "type": "nominal"}
      }
    },
    {
      "mark": {"type": "point", "opacity": 0},
      "encoding": {
        "x": {"field": "x", "type": "quantitative", "scale": {"domain": [0, 250], "nice": false},
          "axis": {"orient": "top", "values": [0,10,20,30,40,50,60,70,80,90,100,110,120,130,140,150,160,170,180,190,200,210,220,230,240,250],
            "tickSize": {"condition": {"test": "datum.value % 50 === 0", "value": -14}, "value": -7}, "labels": false, "title": null}},
        "y": {"field": "y", "type": "quantitative", "scale": {"domain": [0, 70000], "nice": false},
          "axis": {"orient": "right", "values": [0,5000,10000,15000,20000,25000,30000,35000,40000,45000,50000,55000,60000,65000,70000],
            "tickSize": {"condition": {"test": "datum.value % 20000 === 0", "value": -14}, "value": -7}, "labels": false, "title": null}}
      }
    },
    {
      "data": {"values": [{}]},
      "mark": {"type": "text", "text": "(b)", "fontSize": 36, "font": "DejaVu Sans", "color": "#000"},
      "encoding": {
        "x": {"datum": 228, "type": "quantitative", "axis": null},
        "y": {"datum": 62500, "type": "quantitative", "axis": null}
      }
    }
  ],
  "resolve": {"axis": {"x": "independent", "y": "independent"}}
}
]
}
